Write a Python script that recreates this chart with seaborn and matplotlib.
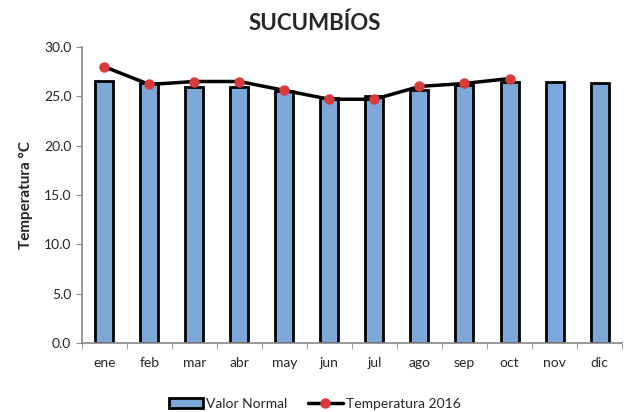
import numpy as np
import pandas as pd
import matplotlib
matplotlib.use("Agg")
import matplotlib.pyplot as plt
import seaborn as sns

meses = ["ene", "feb", "mar", "abr", "may", "jun", "jul", "ago", "sep", "oct", "nov", "dic"]
valor_normal = [26.6, 26.3, 25.9, 25.9, 25.5, 24.8, 25.0, 25.6, 26.1, 26.5, 26.5, 26.3]
temp_2016 = [28.0, 26.2, 26.5, 26.5, 25.6, 24.7, 24.7, 26.0, 26.3, 26.8]

df = pd.DataFrame({"mes": meses, "normal": valor_normal})

sns.set_style("white")
plt.rcParams["font.family"] = ["Lato", "DejaVu Sans"]

fig = plt.figure(figsize=(6.29, 4.12), dpi=100)
ax = fig.add_axes([0.13, 0.1675, 0.859, 0.7185])

sns.barplot(data=df, x="mes", y="normal", color="#7ba7d9", saturation=1,
            width=0.4, edgecolor="black", linewidth=2, ax=ax, label="Valor Normal")

x_idx = np.arange(len(temp_2016))
ax.plot(x_idx, temp_2016, color="black", linewidth=2.5, marker="o",
        markersize=6.5, markerfacecolor="#d93a3a", markeredgecolor="#d93a3a",
        label="Temperatura 2016")
if ax.get_legend() is not None:
    ax.get_legend().remove()

ax.set_ylim(0, 30)
ax.set_xlim(-0.5, 11.5)
ax.set_yticks(np.arange(0, 30.1, 5))
ax.set_yticklabels([f"{v:.1f}" for v in np.arange(0, 30.1, 5)], fontsize=10)
ax.set_xticks(np.arange(-0.5, 12, 1), minor=True)
ax.tick_params(axis="x", which="major", labelsize=10, length=0, pad=10)
ax.tick_params(axis="x", which="minor", length=4, color="#888888", bottom=True)
ax.tick_params(axis="y", length=4, color="#888888", left=True)
ax.set_xlabel("")
ax.set_ylabel("Temperatura °C", fontsize=11, fontweight="bold", labelpad=8)

for s in ["top", "right"]:
    ax.spines[s].set_visible(False)
for s in ["left", "bottom"]:
    ax.spines[s].set_color("#888888")
    ax.spines[s].set_linewidth(1.2)

fig.suptitle("SUCUMBÍOS", fontsize=16, fontweight="bold", y=0.97)

handles, labels = ax.get_legend_handles_labels()
order = [labels.index("Valor Normal"), labels.index("Temperatura 2016")]
fig.legend([handles[i] for i in order], [labels[i] for i in order],
           loc="lower center", ncol=2, frameon=False, fontsize=10,
           bbox_to_anchor=(0.5, -0.025), handlelength=2.5, columnspacing=1.5,
           handletextpad=0.2)

fig.savefig("out.png", dpi=100)
